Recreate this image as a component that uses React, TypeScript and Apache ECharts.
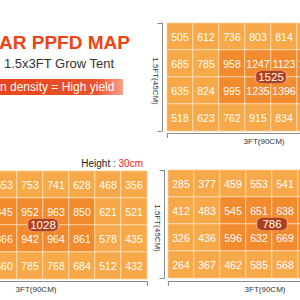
import React, { useEffect, useRef } from "react";
import * as echarts from "echarts";

// ---- data ----
const columns = ["C1", "C2", "C3", "C4", "C5", "C6", "C7", "C8"];
const rows = ["R1", "R2", "R3", "R4"];

// 1 = core (denser light) zone of the tent
const coreZone = [
  [0, 0, 0, 0, 0, 0, 0, 0],
  [0, 0, 1, 1, 1, 1, 0, 0],
  [0, 0, 1, 1, 1, 1, 0, 0],
  [0, 0, 0, 0, 0, 0, 0, 0],
];

// top-right map (mostly visible columns 1-5)
const ppfdMapA = [
  [505, 612, 736, 803, 814, 765, 640, 520],
  [685, 785, 958, 1247, 1123, 1089, 802, 662],
  [635, 824, 995, 1235, 1396, 1102, 815, 640],
  [518, 623, 762, 915, 834, 790, 612, 497],
];
const peakA = 1525;

// bottom-left map at height 30cm (visible columns 3-8)
const ppfdMapB = [
  [402, 547, 653, 753, 741, 628, 468, 356],
  [488, 672, 845, 952, 963, 850, 621, 521],
  [471, 690, 866, 942, 964, 861, 578, 435],
  [395, 551, 660, 785, 768, 684, 512, 432],
];
const peakB = 1028;

// bottom-right map (visible columns 1-5)
const ppfdMapC = [
  [285, 377, 459, 553, 541, 470, 381, 290],
  [412, 483, 545, 651, 638, 560, 470, 398],
  [326, 436, 596, 632, 669, 575, 452, 331],
  [264, 367, 462, 585, 568, 492, 371, 270],
];
const peakC = 786;

const widthLabel = "3FT(90CM)";
const depthLabel = "1.5FT(45CM)";

// ---- styles ----
const LIGHT = "#f7a94a";
const DARK = "#f28a2e";
const AXIS = "#8c8c8c";
const FONT = '"Liberation Sans", Arial, sans-serif';

const grids = [
  { left: 167, top: 23, width: 208, height: 108, xOffset: 2, yOffset: 4.5 },
  { left: -61, top: 171, width: 208, height: 108, xOffset: 2, yOffset: 4 },
  { left: 168, top: 170, width: 208, height: 108, xOffset: 3, yOffset: 3.5 },
];
const maps = [ppfdMapA, ppfdMapB, ppfdMapC];
const peaks = [peakA, peakB, peakC];

function buildOption() {
  const xAxis: any[] = [];
  const yAxis: any[] = [];
  const series: any[] = [];
  grids.forEach((g, i) => {
    xAxis.push({
      gridIndex: i,
      type: "category",
      data: columns,
      position: "top",
      show: false,
    });
    xAxis.push({
      gridIndex: i,
      type: "value",
      min: 0,
      max: columns.length,
      interval: columns.length,
      position: "bottom",
      offset: g.xOffset,
      axisLine: { show: true, lineStyle: { color: AXIS, width: 1 } },
      axisTick: { show: true, length: 5, lineStyle: { color: AXIS, width: 1 } },
      axisLabel: { show: false },
      splitLine: { show: false },
      name: widthLabel,
      nameLocation: "middle",
      nameGap: 4,
      nameTextStyle: {
        fontSize: 8,
        fontFamily: FONT,
        color: "#333",
        padding: [0, 14, 0, 0],
      },
    });
    yAxis.push({
      gridIndex: i,
      type: "category",
      data: rows,
      inverse: true,
      position: "right",
      show: false,
    });
    yAxis.push({
      gridIndex: i,
      type: "value",
      min: 0,
      max: rows.length,
      interval: rows.length,
      position: "left",
      offset: g.yOffset,
      axisLine: { show: true, lineStyle: { color: AXIS, width: 1 } },
      axisTick: { show: true, length: 5, lineStyle: { color: AXIS, width: 1 } },
      axisLabel: { show: false },
      splitLine: { show: false },
      name: depthLabel,
      nameLocation: "middle",
      nameRotate: -90,
      nameGap: 3,
      nameTextStyle: {
        fontSize: 8,
        fontFamily: FONT,
        color: "#333",
        padding: [0, 0, 0, 8],
      },
    });

    const data: any[] = [];
    maps[i].forEach((row, r) =>
      row.forEach((v, c) => data.push([c, r, v, coreZone[r][c]]))
    );
    series.push({
      type: "heatmap",
      xAxisIndex: i * 2,
      yAxisIndex: i * 2,
      data,
      itemStyle: { borderColor: "rgba(255,236,210,0.75)", borderWidth: 1 },
      label: {
        show: true,
        color: "#ffffff",
        fontSize: 10.5,
        fontFamily: FONT,
        formatter: (p: any) => String(p.value[2]),
      },
      emphasis: { disabled: true },
    });
  });

  grids.forEach((g, i) => {
    series.push({
      type: "scatter",
      xAxisIndex: i * 2 + 1,
      yAxisIndex: i * 2 + 1,
      data: [[columns.length / 2, rows.length / 2, peaks[i]]],
      symbol: "roundRect",
      symbolSize: [31, 13],
      itemStyle: {
        color: "#b03f1b",
        borderColor: "#eba27c",
        borderWidth: 1,
        opacity: 1,
      },
      label: {
        show: true,
        position: "inside",
        color: "#ffffff",
        fontSize: 11.5,
        fontFamily: FONT,
        formatter: (p: any) => String(p.value[2]),
      },
      emphasis: { disabled: true },
      z: 10,
    });
  });

  return {
    animation: false,
    backgroundColor: "#ffffff",
    grid: grids.map((g) => ({
      left: g.left,
      top: g.top,
      width: g.width,
      height: g.height,
      containLabel: false,
      outerBoundsMode: "none",
    })),
    xAxis,
    yAxis,
    visualMap: {
      type: "piecewise",
      show: false,
      dimension: 3,
      seriesIndex: [0, 1, 2],
      pieces: [
        { value: 0, color: LIGHT },
        { value: 1, color: DARK },
      ],
    },
    series,
    graphic: [
      {
        type: "text",
        x: -1,
        y: 42,
        style: {
          text: "AR PPFD MAP",
          fontSize: 19,
          fontWeight: "bold",
          fontFamily: FONT,
          fill: "#ee4513",
          verticalAlign: "middle",
        },
      },
      {
        type: "text",
        x: 4,
        y: 63,
        style: {
          text: "1.5x3FT Grow Tent",
          fontSize: 13,
          fontFamily: FONT,
          fill: "#333333",
          verticalAlign: "middle",
        },
      },
      {
        type: "rect",
        shape: { x: 0, y: 79, width: 123, height: 16 },
        style: {
          fill: new echarts.graphic.LinearGradient(0, 0, 1, 0, [
            { offset: 0, color: "#e8461a" },
            { offset: 0.78, color: "#ea5328" },
            { offset: 1, color: "#f4a28c" },
          ]),
        },
      },
      {
        type: "text",
        x: 0,
        y: 87,
        style: {
          text: "n density = High yield",
          fontSize: 12,
          fontFamily: FONT,
          fill: "#ffffff",
          verticalAlign: "middle",
        },
      },
      {
        type: "text",
        x: 143,
        y: 163,
        style: {
          text: "{a|Height : }{b|30cm}",
          align: "right",
          verticalAlign: "middle",
          rich: {
            a: { fontSize: 10, fontFamily: FONT, fill: "#222222" },
            b: { fontSize: 10, fontFamily: FONT, fill: "#f0201c" },
          },
        },
      },
    ],
  };
}

export default function App() {
  const ref = useRef<HTMLDivElement>(null);
  useEffect(() => {
    if (!ref.current) return;
    const chart = echarts.init(ref.current, null, { renderer: "svg" });
    chart.setOption(buildOption() as any);
    return () => chart.dispose();
  }, []);
  return (
    <div
      ref={ref}
      style={{ position: "fixed", left: 0, top: 0, width: 300, height: 300 }}
    />
  );
}
